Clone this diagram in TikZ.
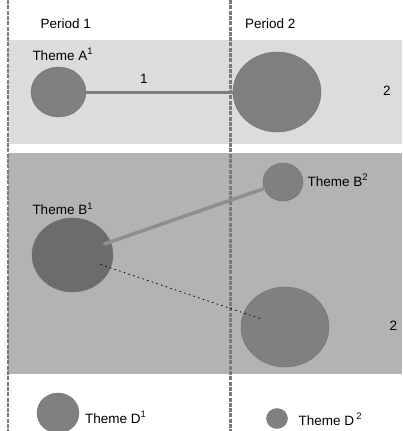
\documentclass[tikz,border=0pt]{standalone}
\usepackage{fontspec}
\setmainfont{Liberation Sans}
\usetikzlibrary{shapes.geometric}
\definecolor{bandlight}{HTML}{DCDCDE}
\definecolor{banddark}{HTML}{B3B3B5}
\definecolor{themegray}{HTML}{808080}
\definecolor{themedark}{HTML}{6C6C6C}
\definecolor{themeedge}{HTML}{707070}
\definecolor{periodline}{HTML}{7A7A7A}
\definecolor{linkA}{HTML}{7C7C7C}
\definecolor{linkB}{HTML}{8E8E8E}

\begin{document}
\begin{tikzpicture}[line cap=round,line join=round,x=1pt,y=-1pt,
  theme/.style={ellipse,draw=themeedge,line width=0.4pt,fill=themegray,inner sep=0pt},
  txt/.style={anchor=base west,inner sep=0pt,font=\fontsize{13.5}{16}\selectfont}]

\useasboundingbox [fill=white] (0,0) rectangle (402,431);
%% bands
\fill [bandlight] (8,40) rectangle (402,143.5);
\fill [banddark] (8,152.7) rectangle (402,374);
%% periods
\draw [periodline,line width=1.3pt,line cap=butt,dash pattern=on 4pt off 1.3pt] (8,0) -- (8,431);
\draw [periodline,line width=2.3pt,line cap=butt,dash pattern=on 4pt off 1.3pt] (230.5,0) -- (230.5,431);
\node [txt] (p1) at (40.5,28.5) {Period 1};
\node [txt] (p2) at (245,28.5) {Period 2};
%% theme A
\node [theme,minimum width=55pt,minimum height=50pt] (a1) at (58.5,92) {};
\node [theme,minimum width=88pt,minimum height=80pt] (a2) at (277,92) {};
\draw [linkA,line width=3pt,line cap=butt] (a1) -- (a2);
\node [txt] (ta1) at (32.3,60) {Theme A\textsuperscript{1}};
\node [txt] (n1) at (140,83) {1};
\node [txt] (n2) at (383,95) {2};
%% theme B
\node [theme,fill=themedark,minimum width=81pt,minimum height=74pt] (b1) at (72.5,255) {};
\node [theme,minimum width=40pt,minimum height=38pt] (b2) at (283,182) {};
\node [theme,minimum width=88pt,minimum height=80pt] (b3) at (285,327) {};
\draw [linkB,line width=3.5pt,shorten <=34pt] (b1.center) -- (b2);
\draw [black,line width=0.9pt,dash pattern=on 0.9pt off 4pt,shorten <=30pt,shorten >=27pt] (b1.center) -- (b3.center);
\node [txt] (tb1) at (32.3,214.3) {Theme B\textsuperscript{1}};
\node [txt] (tb2) at (307.3,186) {Theme B\textsuperscript{2}};
\node [txt] (n3) at (389.5,330) {2};
%% theme D
\node [theme,minimum width=42pt,minimum height=40pt] (d1) at (58,413) {};
\node [theme,minimum width=21pt,minimum height=20pt] (d2) at (277,418.5) {};
\node [txt] (td1) at (85,423) {Theme D\textsuperscript{1}};
\node [txt] (td2) at (298.3,425) {Theme D\,\textsuperscript{2}};
\end{tikzpicture}
\end{document}
